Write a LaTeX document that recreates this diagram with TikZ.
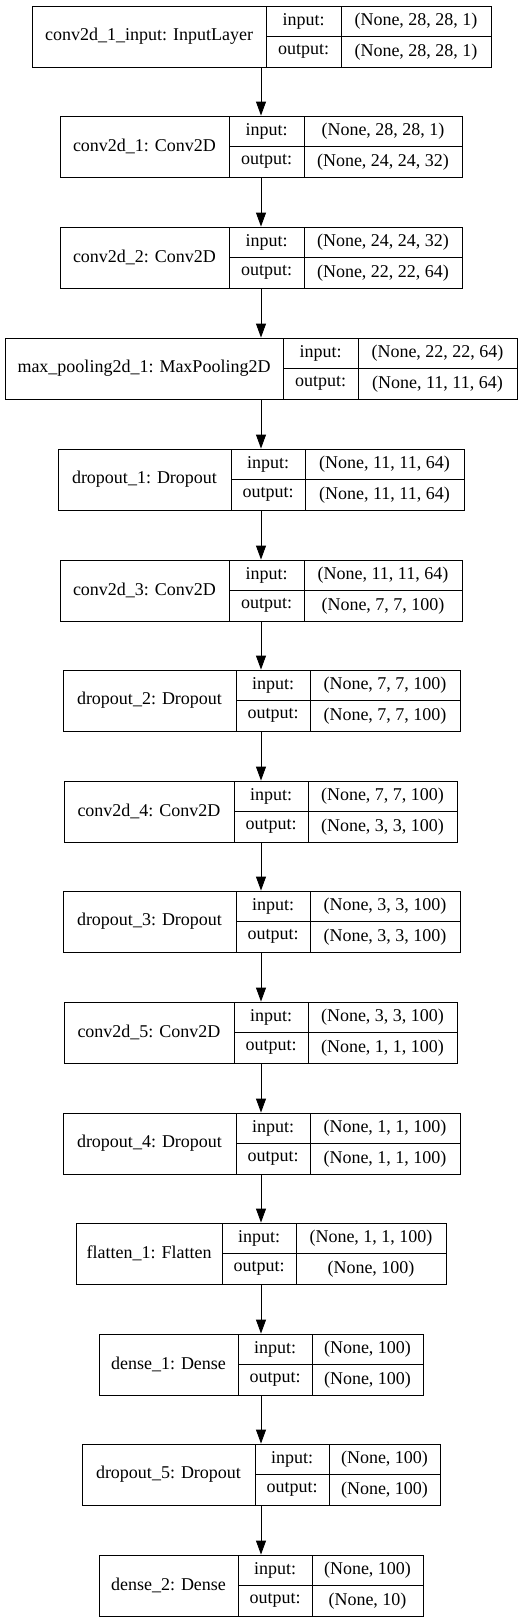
\documentclass[tikz,border=0pt]{standalone}
\usepackage{fontspec}
\setmainfont{Liberation Serif}
\usetikzlibrary{arrows.meta}

\begin{document}
\begin{tikzpicture}[x=1pt,y=-1pt,
  cell/.style={draw, line width=0.9pt, inner sep=0pt, font=\rmfamily\fontsize{18}{20}\selectfont},
  layerbox/.style={draw, line width=0.9pt, inner sep=0pt, minimum height=61pt},
  flow/.style={-{Triangle[length=14pt,width=10pt]}, line width=0.9pt}]
  \useasboundingbox (0,0) rectangle (523,1623);
  \coordinate (axis) at (261,0);
  % one record per layer: name | input:/output: | shapes
  \foreach \i/\y/\xa/\xb/\xc/\xd/\lname/\shin/\shout in {
    1/36.5/32/266/341/491/{conv2d\_1\_input: InputLayer}/{(None, 28, 28, 1)}/{(None, 28, 28, 1)},
    2/146.5/60/229/304/462/{conv2d\_1: Conv2D}/{(None, 28, 28, 1)}/{(None, 24, 24, 32)},
    3/257.5/60/229/304/462/{conv2d\_2: Conv2D}/{(None, 24, 24, 32)}/{(None, 22, 22, 64)},
    4/368.5/5/283/358/517/{max\_pooling2d\_1: MaxPooling2D}/{(None, 22, 22, 64)}/{(None, 11, 11, 64)},
    5/479.5/58/231/305/464/{dropout\_1: Dropout}/{(None, 11, 11, 64)}/{(None, 11, 11, 64)},
    6/590.5/60/229/304/462/{conv2d\_3: Conv2D}/{(None, 11, 11, 64)}/{(None, 7, 7, 100)},
    7/700.5/63/236/310/460/{dropout\_2: Dropout}/{(None, 7, 7, 100)}/{(None, 7, 7, 100)},
    8/811.5/64/234/308/457/{conv2d\_4: Conv2D}/{(None, 7, 7, 100)}/{(None, 3, 3, 100)},
    9/921.5/63/236/310/460/{dropout\_3: Dropout}/{(None, 3, 3, 100)}/{(None, 3, 3, 100)},
    10/1032.5/64/234/308/457/{conv2d\_5: Conv2D}/{(None, 3, 3, 100)}/{(None, 1, 1, 100)},
    11/1143.5/63/236/310/460/{dropout\_4: Dropout}/{(None, 1, 1, 100)}/{(None, 1, 1, 100)},
    12/1253.5/76/222/296/446/{flatten\_1: Flatten}/{(None, 1, 1, 100)}/{(None, 100)},
    13/1364.5/99/238/312/423/{dense\_1: Dense}/{(None, 100)}/{(None, 100)},
    14/1474.5/82/255/329/440/{dropout\_5: Dropout}/{(None, 100)}/{(None, 100)},
    15/1585.5/99/238/312/423/{dense\_2: Dense}/{(None, 100)}/{(None, 10)}}
  {
    \node[layerbox, minimum width=\xd-\xa] (L\i) at ({(\xa+\xd)/2},\y) {};
    \node[cell, minimum width=\xb-\xa, minimum height=61pt] (L\i-name) at ({(\xa+\xb)/2},\y) {\lname};
    \node[cell, minimum width=\xc-\xb, minimum height=30.5pt] (L\i-inlab) at ({(\xb+\xc)/2},\y-15.25) {input:};
    \node[cell, minimum width=\xc-\xb, minimum height=30.5pt] (L\i-outlab) at ({(\xb+\xc)/2},\y+15.25) {output:};
    \node[cell, minimum width=\xd-\xc, minimum height=30.5pt] (L\i-in) at ({(\xc+\xd)/2},\y-15.25) {\shin};
    \node[cell, minimum width=\xd-\xc, minimum height=30.5pt] (L\i-out) at ({(\xc+\xd)/2},\y+15.25) {\shout};
  }
  % connectors
  \foreach \i in {1,...,14} {
    \pgfmathtruncatemacro\j{\i+1}
    \draw[flow] (axis |- L\i.south) -- (axis |- L\j.north);
  }
\end{tikzpicture}
\end{document}
